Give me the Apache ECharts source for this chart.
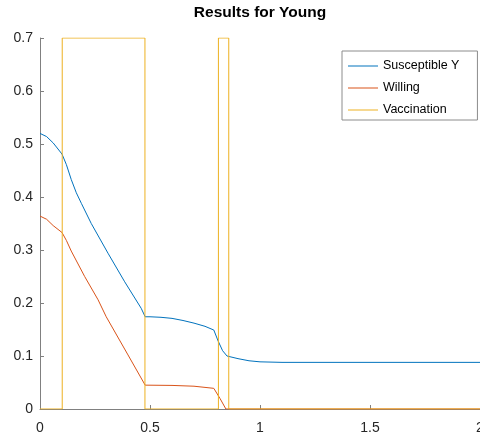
<!DOCTYPE html>
<html>
<head>
<meta charset="utf-8">
<script src="https://cdn.jsdelivr.net/npm/echarts@6/dist/echarts.min.js"></script>
<style>html,body{margin:0;padding:0;background:#fff;overflow:hidden}#c{width:480px;height:439px}</style>
</head>
<body>
<div id="c"></div>
<script>
var title = 'Results for Young';
var seriesNames = ['Susceptible Y', 'Willing', 'Vaccination'];
var xTicks = [0, 0.5, 1, 1.5, 2];
var yTicks = [0, 0.1, 0.2, 0.3, 0.4, 0.5, 0.6, 0.7];

var suscX = [0, 0.03, 0.06, 0.1, 0.12, 0.142, 0.165, 0.188, 0.233, 0.309, 0.385, 0.46, 0.478, 0.5, 0.55, 0.6, 0.65, 0.7, 0.75, 0.79, 0.81, 0.83, 0.85, 0.9, 0.95, 1.0, 1.1, 1.5, 2];
var suscY = [0.52, 0.514, 0.502, 0.481, 0.461, 0.433, 0.408, 0.388, 0.35, 0.294, 0.24, 0.19, 0.174, 0.174, 0.173, 0.171, 0.167, 0.162, 0.156, 0.149, 0.128, 0.11, 0.1, 0.095, 0.091, 0.089, 0.088, 0.088, 0.088];

var willX = [0, 0.03, 0.06, 0.1, 0.12, 0.142, 0.203, 0.264, 0.301, 0.4, 0.478, 0.6, 0.7, 0.79, 0.818, 0.845, 1.0, 1.5, 2];
var willY = [0.364, 0.358, 0.346, 0.333, 0.318, 0.298, 0.25, 0.206, 0.174, 0.102, 0.045, 0.0445, 0.043, 0.039, 0.02, 0, 0, 0, 0];

var vaccX = [0, 0.101, 0.101, 0.477, 0.477, 0.811, 0.811, 0.858, 0.858, 2];
var vaccY = [0, 0, 0.7, 0.7, 0, 0, 0.7, 0.7, 0, 0];

function pairs(xs, ys) { return xs.map(function (x, i) { return [x, ys[i]]; }); }

var colors = ['#0072BD', '#D95319', '#EDB120'];
var font = 'Liberation Sans, Arial, Helvetica, sans-serif';
var lineIcon = 'path://M0,0L30,0L30,1L0,1Z';

var chart = echarts.init(document.getElementById('c'), null, {renderer: 'canvas'});
chart.setOption({
  animation: false,
  backgroundColor: '#fff',
  color: colors,
  graphic: [{
    type: 'text', x: 260, y: 5,
    style: {text: title, textAlign: 'center', textVerticalAlign: 'top',
      font: 'bold 15.5px Liberation Sans, Arial, sans-serif', fill: '#000'}
  }],
  legend: {
    orient: 'vertical', left: 342, top: 51,
    data: seriesNames.map(function (n) { return {name: n, icon: lineIcon}; }),
    itemWidth: 30, itemHeight: 14, itemGap: 6,
    padding: [7, 18, 2, 6],
    backgroundColor: '#fff', borderColor: '#8c8c8c', borderWidth: 1, borderRadius: 0,
    textStyle: {fontFamily: font, fontSize: 12.5, color: '#000', lineHeight: 16}
  },
  grid: {left: 40, right: 0, top: 38, bottom: 30, containLabel: false, outerBoundsMode: 'none'},
  xAxis: {
    type: 'value', min: 0, max: 2, interval: 0.5,
    axisLine: {show: true, onZero: false, lineStyle: {color: '#808080', width: 1}},
    axisTick: {show: true, inside: true, length: 4, lineStyle: {color: '#808080'}},
    splitLine: {show: false},
    axisLabel: {fontFamily: font, fontSize: 14, color: '#262626', margin: 12, showMaxLabel: true, hideOverlap: false,
      formatter: function (v) { return String(v); }}
  },
  yAxis: {
    type: 'value', min: 0, max: 0.7, interval: 0.1,
    axisLine: {show: true, onZero: false, lineStyle: {color: '#808080', width: 1}},
    axisTick: {show: true, inside: true, length: 4, lineStyle: {color: '#808080'}},
    splitLine: {show: false},
    axisLabel: {fontFamily: font, fontSize: 14, color: '#262626', margin: 7,
      formatter: function (v) { return String(Math.round(v * 10) / 10); }}
  },
  series: [
    {name: seriesNames[0], type: 'line', data: pairs(suscX, suscY), showSymbol: false, symbol: 'none', smooth: false, lineStyle: {width: 1}},
    {name: seriesNames[1], type: 'line', data: pairs(willX, willY), showSymbol: false, symbol: 'none', smooth: false, lineStyle: {width: 1}},
    {name: seriesNames[2], type: 'line', data: pairs(vaccX, vaccY), showSymbol: false, symbol: 'none', smooth: false, lineStyle: {width: 1}}
  ]
});
</script>
</body>
</html>
